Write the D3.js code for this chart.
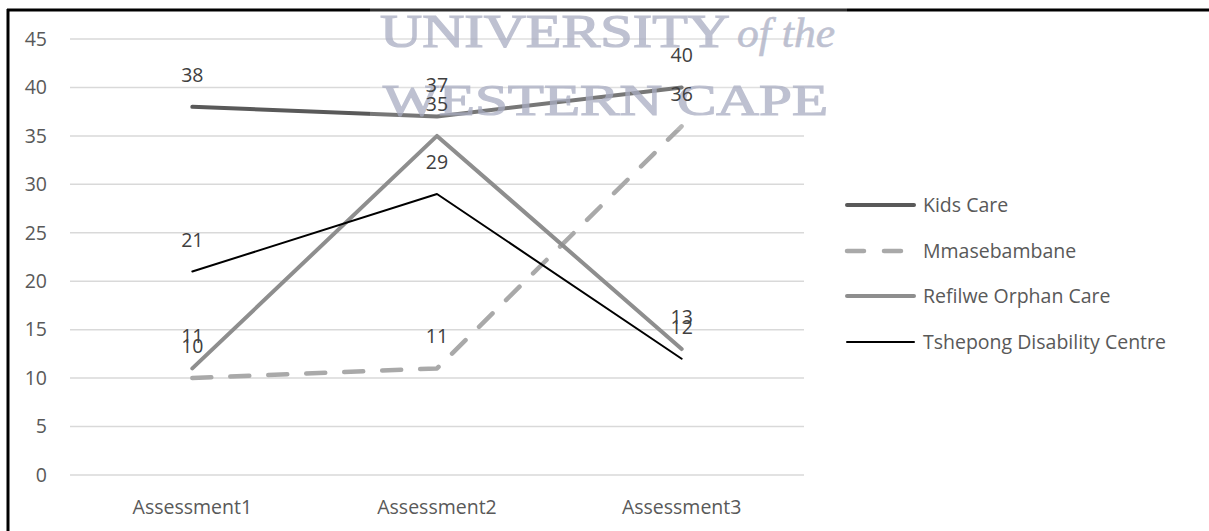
<!DOCTYPE html>
<html>
<head>
<meta charset="utf-8">
<script src="https://cdn.jsdelivr.net/npm/d3@7/dist/d3.min.js"></script>
<style>
  html, body { margin: 0; padding: 0; background: #fff; }
  svg { display: block; }
  text { font-family: "Open Sans", "Noto Sans", sans-serif; }
</style>
</head>
<body>
<svg id="chart" width="1209" height="531"></svg>
<script>
// Assessment scores per centre
const categories = ["Assessment1", "Assessment2", "Assessment3"];
const seriesNames = ["Kids Care", "Mmasebambane", "Refilwe Orphan Care", "Tshepong Disability Centre"];
const kidsCare = [38, 37, 40];
const mmasebambane = [10, 11, 36];
const refilwe = [11, 35, 13];
const tshepong = [21, 29, 12];
const yTicks = [0, 5, 10, 15, 20, 25, 30, 35, 40, 45];

const seriesValues = [kidsCare, mmasebambane, refilwe, tshepong];
const seriesStyle = [
  { color: "#595959", width: 4, dash: null },
  { color: "#a9a9a9", width: 4.5, dash: "19 19" },
  { color: "#8e8e8e", width: 4, dash: null },
  { color: "#000000", width: 2, dash: null }
];

const svg = d3.select("#chart");

const plot = { left: 70, right: 804, top: 39, bottom: 475 };

const x = d3.scaleBand().domain(categories).range([plot.left, plot.right]).padding(0);
const cx = c => x(c) + x.bandwidth() / 2;
const y = d3.scaleLinear().domain([0, 45]).range([plot.bottom, plot.top]);

// Horizontal gridlines
svg.append("g")
  .selectAll("line")
  .data(yTicks)
  .join("line")
  .attr("x1", plot.left).attr("x2", plot.right)
  .attr("y1", d => y(d)).attr("y2", d => y(d))
  .attr("stroke", "#d9d9d9").attr("stroke-width", 1.5);

// Y axis labels
const yAxis = d3.axisLeft(y).tickValues(yTicks).tickSize(0).tickPadding(0);
svg.append("g")
  .attr("transform", `translate(${plot.left - 23},0)`)
  .call(yAxis)
  .call(g => g.select(".domain").remove())
  .call(g => g.selectAll("text")
    .attr("fill", "#595959")
    .style("font-size", "19.5px")
    .style("font-family", "'Open Sans', sans-serif"));

// Category labels
const xAxis = d3.axisBottom(x).tickSize(0).tickPadding(0);
svg.append("g")
  .attr("transform", `translate(0,${plot.bottom + 25})`)
  .call(xAxis)
  .call(g => g.select(".domain").remove())
  .call(g => g.selectAll("text")
    .attr("fill", "#595959")
    .style("font-size", "19.5px")
    .style("font-family", "'Open Sans', sans-serif"));

// Series lines
const line = d3.line()
  .x((d, i) => cx(categories[i]))
  .y(d => y(d));

svg.append("g")
  .selectAll("path")
  .data(seriesValues)
  .join("path")
  .attr("d", d => line(d))
  .attr("fill", "none")
  .attr("stroke", (d, i) => seriesStyle[i].color)
  .attr("stroke-width", (d, i) => seriesStyle[i].width)
  .attr("stroke-dasharray", (d, i) => seriesStyle[i].dash)
  .attr("stroke-linecap", "round")
  .attr("stroke-linejoin", "round");

// Frame lines (left and top)
svg.append("line").attr("x1", 8).attr("x2", 8).attr("y1", 9).attr("y2", 531)
  .attr("stroke", "#000").attr("stroke-width", 3);
svg.append("line").attr("x1", 7).attr("x2", 1209).attr("y1", 10).attr("y2", 10)
  .attr("stroke", "#000").attr("stroke-width", 3);

// University crest text overlay
const wm = svg.append("g");
wm.append("rect")
  .attr("x", 370).attr("y", 8).attr("width", 477).attr("height", 122)
  .attr("fill", "#ffffff").attr("opacity", 0.18);
const serif = "'Liberation Serif', 'DejaVu Serif', serif";
const wmColor = "#a9adc2";
function crestText(str, xPos, yPos, len, size, italic) {
  wm.append("text")
    .attr("x", xPos).attr("y", yPos)
    .attr("textLength", len).attr("lengthAdjust", "spacingAndGlyphs")
    .style("font-family", serif)
    .style("font-size", size + "px")
    .style("font-style", italic ? "italic" : "normal")
    .attr("fill", wmColor)
    .attr("stroke", wmColor)
    .attr("stroke-width", italic ? 0.6 : 1.2)
    .attr("opacity", 0.75)
    .text(str);
}
crestText("UNIVERSITY", 380, 47, 350, 46, false);
crestText("of the", 737, 47, 98, 42, true);
crestText("WESTERN CAPE", 383, 115, 445, 44, false);

// Data labels above each point
const labelData = [];
seriesValues.forEach((vals, s) => vals.forEach((v, i) => labelData.push({ s, i, v })));
svg.append("g")
  .selectAll("text")
  .data(labelData)
  .join("text")
  .attr("x", d => cx(categories[d.i]))
  .attr("y", d => y(d.v) - 25)
  .attr("text-anchor", "middle")
  .attr("fill", "#404040")
  .style("font-size", "19.5px")
  .text(d => d.v);

// Legend
const legend = svg.append("g");
const legendRows = [205, 251, 296, 342];
seriesNames.forEach((name, i) => {
  const row = legend.append("g").attr("transform", `translate(0,${legendRows[i]})`);
  row.append("line")
    .attr("x1", 847).attr("x2", 914)
    .attr("y1", 0).attr("y2", 0)
    .attr("stroke", seriesStyle[i].color)
    .attr("stroke-width", seriesStyle[i].width)
    .attr("stroke-dasharray", seriesStyle[i].dash ? "17 20" : null)
    .attr("stroke-linecap", "round");
  row.append("text")
    .attr("x", 923).attr("y", 7)
    .attr("fill", "#595959")
    .style("font-size", "19.5px")
    .text(name);
});
</script>
</body>
</html>
